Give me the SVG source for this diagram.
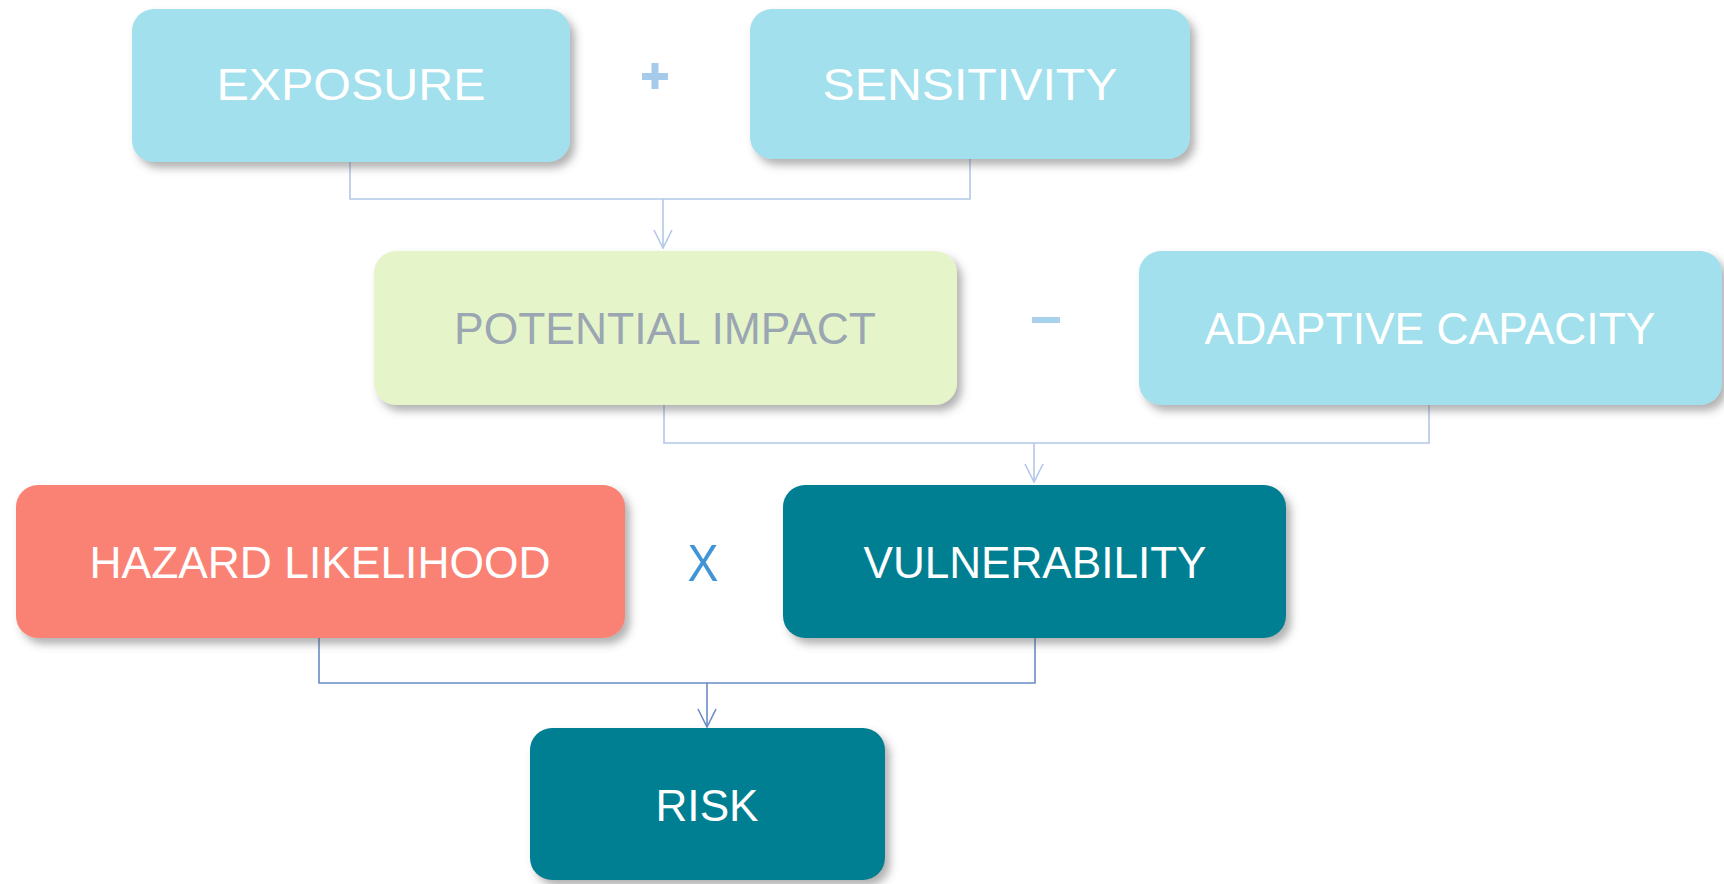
<svg xmlns="http://www.w3.org/2000/svg" width="1724" height="884" viewBox="0 0 1724 884">
<style>
.lbl{font-family:"Liberation Sans",Arial,sans-serif;font-size:45px;text-anchor:middle;fill:#ffffff}
.op{font-family:"Liberation Sans",Arial,sans-serif;text-anchor:middle}
.c1{fill:none;stroke:#b3c7e8;stroke-width:1.6}
.c2{fill:none;stroke:#6a8cc6;stroke-width:1.6}
</style>
<defs>
<filter id="sh" x="-10%" y="-10%" width="125%" height="135%">
<feDropShadow dx="5" dy="6" stdDeviation="4" flood-color="#555" flood-opacity="0.45"/>
</filter>
<marker id="a1" viewBox="0 0 20 20" refX="19" refY="10" markerWidth="20" markerHeight="20" markerUnits="userSpaceOnUse" orient="auto">
<path d="M1,1 L19,10 L1,19" fill="none" stroke="#b3c7e8" stroke-width="1.6"/>
</marker>
<marker id="a2" viewBox="0 0 20 20" refX="19" refY="10" markerWidth="20" markerHeight="20" markerUnits="userSpaceOnUse" orient="auto">
<path d="M1,1 L19,10 L1,19" fill="none" stroke="#6a8cc6" stroke-width="1.6"/>
</marker>
</defs>
<rect width="1724" height="884" fill="#ffffff"/>
<g id="connectors">
<path class="c1" d="M350,162 V199 H970 V159"/>
<path class="c1" d="M663,199 V248" marker-end="url(#a1)"/>
<path class="c1" d="M664,405 V443 H1429 V405"/>
<path class="c1" d="M1034,443 V482" marker-end="url(#a1)"/>
<path class="c2" d="M319,638 V683 H1035 V638"/>
<path class="c2" d="M707,683 V727" marker-end="url(#a2)"/>
</g>
<g id="exposure">
<rect x="132" y="9" width="438" height="153" rx="22" fill="#a1e0ec" filter="url(#sh)"/>
<text class="lbl" x="351" y="100" textLength="269" lengthAdjust="spacingAndGlyphs">EXPOSURE</text>
</g>
<g id="plus" fill="#a6cbea">
<rect x="642" y="73" width="26" height="7"/>
<rect x="651.5" y="63" width="7" height="26"/>
</g>
<g id="sensitivity">
<rect x="750" y="9" width="440" height="150" rx="22" fill="#a1e0ec" filter="url(#sh)"/>
<text class="lbl" x="970" y="100" textLength="295" lengthAdjust="spacingAndGlyphs">SENSITIVITY</text>
</g>
<g id="potential-impact">
<rect x="374" y="251" width="583" height="154" rx="22" fill="#e6f5c9" filter="url(#sh)"/>
<text class="lbl" x="665" y="344" textLength="422" lengthAdjust="spacingAndGlyphs" style="fill:#9aa6b2">POTENTIAL IMPACT</text>
</g>
<g id="minus">
<rect x="1032" y="317" width="28" height="6" fill="#a8d2ec"/>
</g>
<g id="adaptive-capacity">
<rect x="1139" y="251" width="583" height="154" rx="22" fill="#a1e0ec" filter="url(#sh)"/>
<text class="lbl" x="1430" y="344" textLength="451" lengthAdjust="spacingAndGlyphs">ADAPTIVE CAPACITY</text>
</g>
<g id="hazard-likelihood">
<rect x="16" y="485" width="609" height="153" rx="22" fill="#fa8274" filter="url(#sh)"/>
<text class="lbl" x="320" y="578" textLength="461" lengthAdjust="spacingAndGlyphs">HAZARD LIKELIHOOD</text>
</g>
<g id="times">
<text class="op" x="703" y="581" font-size="52" fill="#3f95d6" textLength="31" lengthAdjust="spacingAndGlyphs">X</text>
</g>
<g id="vulnerability">
<rect x="783" y="485" width="503" height="153" rx="22" fill="#067f92" filter="url(#sh)"/>
<text class="lbl" x="1035" y="578" textLength="343" lengthAdjust="spacingAndGlyphs">VULNERABILITY</text>
</g>
<g id="risk">
<rect x="530" y="728" width="355" height="152" rx="22" fill="#067f92" filter="url(#sh)"/>
<text class="lbl" x="707" y="821" textLength="103" lengthAdjust="spacingAndGlyphs">RISK</text>
</g>
</svg>
